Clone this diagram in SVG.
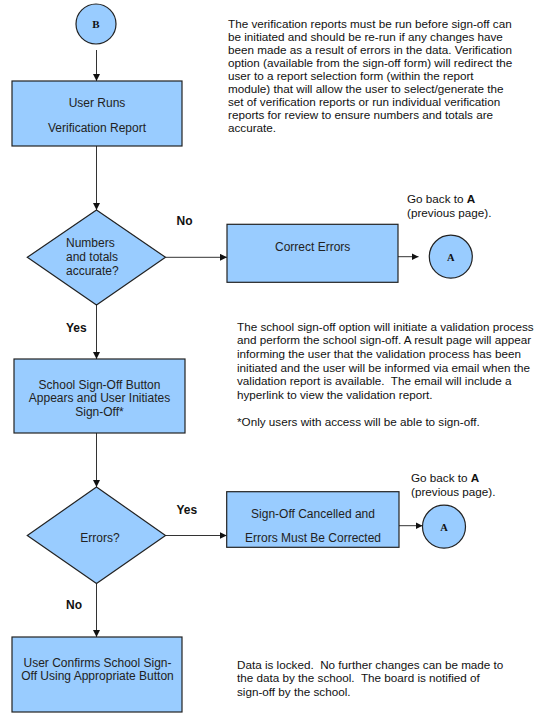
<svg xmlns="http://www.w3.org/2000/svg" width="543" height="719" viewBox="0 0 543 719">
<style>
.shape{fill:#99ccff;stroke:#222;stroke-width:1.2}
.con{stroke:#333;stroke-width:1;fill:none}
.t{font-family:"Liberation Sans",Arial,sans-serif;font-size:12px;fill:#222}
.c{text-anchor:middle}
.p{font-family:"Liberation Sans",Arial,sans-serif;font-size:11.7px;fill:#111;white-space:pre}
.lbl{font-family:"Liberation Sans",Arial,sans-serif;font-size:12px;font-weight:bold;fill:#111}
.ltr{font-family:"Liberation Serif","Times New Roman",serif;font-weight:bold;text-anchor:middle;fill:#111}
</style>
<defs>
<marker id="ah" markerUnits="userSpaceOnUse" markerWidth="8" markerHeight="7" refX="7" refY="3.5" orient="auto">
<path d="M0,0 L7,3.5 L0,7 z" fill="#111"/>
</marker>
</defs>
<rect width="543" height="719" fill="#fff"/>

<g id="connectors">
<line class="con" x1="96.5" y1="50" x2="96.5" y2="81" marker-end="url(#ah)"/>
<line class="con" x1="96.5" y1="146" x2="96.5" y2="210" marker-end="url(#ah)"/>
<line class="con" x1="165.5" y1="257.3" x2="227" y2="257.3" marker-end="url(#ah)"/>
<line class="con" x1="398" y1="256.7" x2="418.5" y2="256.7" marker-end="url(#ah)"/>
<line class="con" x1="96.5" y1="305" x2="96.5" y2="359" marker-end="url(#ah)"/>
<line class="con" x1="96.5" y1="433" x2="96.5" y2="487" marker-end="url(#ah)"/>
<line class="con" x1="165.5" y1="535.5" x2="226.7" y2="535.5" marker-end="url(#ah)"/>
<line class="con" x1="399" y1="525.7" x2="422.5" y2="525.7" marker-end="url(#ah)"/>
<line class="con" x1="96.5" y1="583.5" x2="96.5" y2="637" marker-end="url(#ah)"/>
</g>

<g id="circleB">
<circle class="shape" cx="96" cy="24" r="20"/>
<text class="ltr" x="96" y="28" font-size="11">B</text>
</g>

<g id="userRuns">
<rect class="shape" x="12" y="81" width="170" height="65"/>
<text class="t c" x="97" y="107.3">User Runs</text>
<text class="t c" x="97" y="132">Verification Report</text>
</g>

<g id="note1">
<text class="p" x="228" y="28">The verification reports must be run before sign-off can</text>
<text class="p" x="228" y="41">be initiated and should be re-run if any changes have</text>
<text class="p" x="228" y="54.1">been made as a result of errors in the data. Verification</text>
<text class="p" x="228" y="67.1">option (available from the sign-off form) will redirect the</text>
<text class="p" x="228" y="80.2">user to a report selection form (within the report</text>
<text class="p" x="228" y="93.2">module) that will allow the user to select/generate the</text>
<text class="p" x="228" y="106.2">set of verification reports or run individual verification</text>
<text class="p" x="228" y="119.3">reports for review to ensure numbers and totals are</text>
<text class="p" x="228" y="132.3">accurate.</text>
</g>

<g id="accurate">
<polygon class="shape" points="96.5,210 165.5,257.3 96.5,305 27.3,257.3"/>
<text class="t" x="66" y="247">Numbers</text>
<text class="t" x="66" y="261">and totals</text>
<text class="t" x="66" y="275">accurate?</text>
</g>

<g id="labels">
<text class="lbl" x="176.5" y="225">No</text>
<text class="lbl" x="66" y="331.5">Yes</text>
<text class="lbl" x="176.5" y="513.5">Yes</text>
<text class="lbl" x="66" y="609">No</text>
</g>

<g id="correctErrors">
<rect class="shape" x="227" y="224.3" width="171" height="58"/>
<text class="t c" x="312.7" y="251">Correct Errors</text>
</g>

<g id="goBack1">
<text class="p" x="407" y="203">Go back to <tspan font-weight="bold">A</tspan></text>
<text class="p" x="407" y="217">(previous page).</text>
</g>

<g id="circleA1">
<circle class="shape" cx="450.8" cy="256.7" r="21.5"/>
<text class="ltr" x="450.8" y="260.5" font-size="10.5">A</text>
</g>

<g id="signOffButton">
<rect class="shape" x="14" y="359" width="171" height="74"/>
<text class="t c" x="99.5" y="388.5">School Sign-Off Button</text>
<text class="t c" x="99.5" y="402">Appears and User Initiates</text>
<text class="t c" x="99.5" y="416">Sign-Off*</text>
</g>

<g id="note2">
<text class="p" x="237" y="330.7">The school sign-off option will initiate a validation process</text>
<text class="p" x="237" y="344.4">and perform the school sign-off. A result page will appear</text>
<text class="p" x="237" y="358">informing the user that the validation process has been</text>
<text class="p" x="237" y="371.7">initiated and the user will be informed via email when the</text>
<text class="p" x="237" y="385.3">validation report is available.  The email will include a</text>
<text class="p" x="237" y="399">hyperlink to view the validation report.</text>
<text class="p" x="237" y="426.3">*Only users with access will be able to sign-off.</text>
</g>

<g id="errors">
<polygon class="shape" points="96.5,487 165.5,535.5 96.5,583.5 27.3,535.5"/>
<text class="t c" x="100" y="541.5">Errors?</text>
</g>

<g id="cancelled">
<rect class="shape" x="226.7" y="491.7" width="172.3" height="55.6"/>
<text class="t c" x="313" y="518.3">Sign-Off Cancelled and</text>
<text class="t c" x="313" y="541.5">Errors Must Be Corrected</text>
</g>

<g id="goBack2">
<text class="p" x="411" y="482.3">Go back to <tspan font-weight="bold">A</tspan></text>
<text class="p" x="411" y="495.7">(previous page).</text>
</g>

<g id="circleA2">
<circle class="shape" cx="444" cy="526.7" r="21.5"/>
<text class="ltr" x="444" y="530.5" font-size="10.5">A</text>
</g>

<g id="confirm">
<rect class="shape" x="12" y="637" width="170" height="75"/>
<text class="t c" x="97.5" y="666.5">User Confirms School Sign-</text>
<text class="t c" x="97.5" y="680.3">Off Using Appropriate Button</text>
</g>

<g id="note3">
<text class="p" x="237" y="669">Data is locked.  No further changes can be made to</text>
<text class="p" x="237" y="682.3">the data by the school.  The board is notified of</text>
<text class="p" x="237" y="695.7">sign-off by the school.</text>
</g>
</svg>
